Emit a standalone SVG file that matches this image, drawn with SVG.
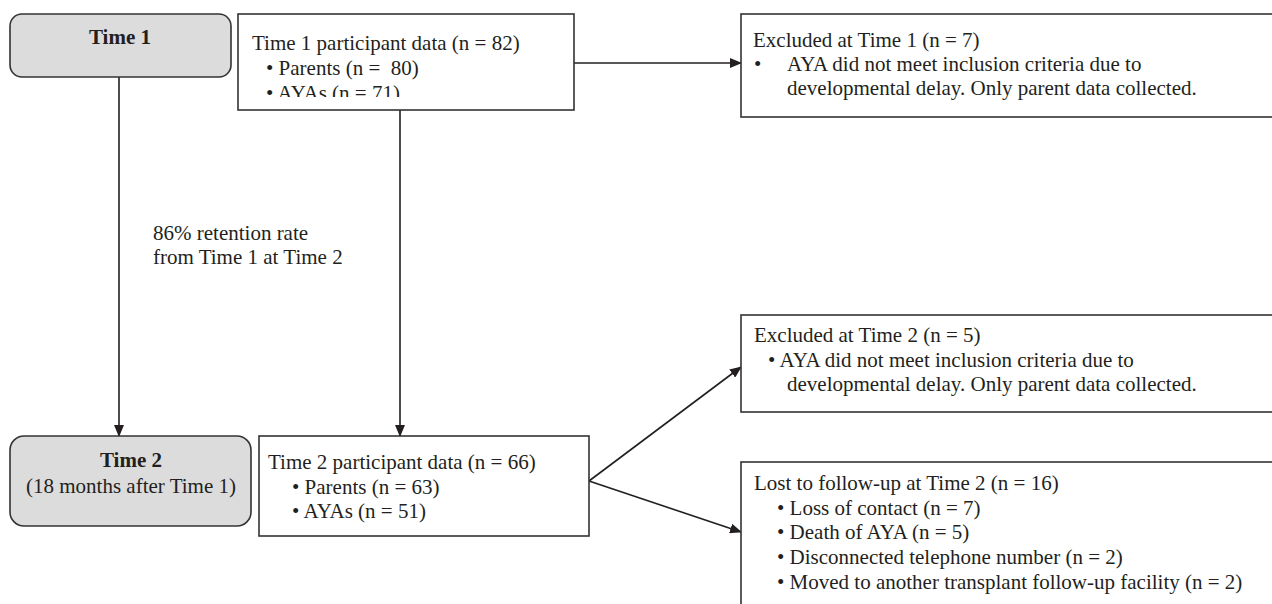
<svg xmlns="http://www.w3.org/2000/svg" width="1272" height="604" viewBox="0 0 1272 604">
<style>
.box{fill:#fff;stroke:#333;stroke-width:1.6}
.tbox{fill:#dcdcdc;stroke:#333;stroke-width:1.6}
text{font-family:"Liberation Serif","Times New Roman",serif;font-size:21px;fill:#231f20}
.b{font-weight:bold}
.c{text-anchor:middle}
.pre{white-space:pre}
.ln{stroke:#231f20;stroke-width:1.6;fill:none}
</style>
<defs>
<marker id="ah" markerWidth="12" markerHeight="10" refX="11" refY="5" orient="auto" markerUnits="userSpaceOnUse">
<path d="M0,0 L12,5 L0,10 Z" fill="#231f20"/>
</marker>
<clipPath id="clip1"><rect x="238" y="14" width="336" height="83"/></clipPath>
</defs>
<rect width="1272" height="604" fill="#fff"/>

<g id="connectors">
<line class="ln" x1="119" y1="77" x2="119" y2="436" marker-end="url(#ah)"/>
<line class="ln" x1="400" y1="110" x2="400" y2="436" marker-end="url(#ah)"/>
<line class="ln" x1="574" y1="63" x2="741" y2="63" marker-end="url(#ah)"/>
<line class="ln" x1="589" y1="481" x2="741" y2="367" marker-end="url(#ah)"/>
<line class="ln" x1="589" y1="481" x2="741" y2="532" marker-end="url(#ah)"/>
<text x="153" y="240">86% retention rate</text>
<text x="153" y="264">from Time 1 at Time 2</text>
</g>

<g id="time1">
<rect class="tbox" x="10" y="14" width="221" height="63" rx="12"/>
<text class="b c" x="120" y="44">Time 1</text>
</g>

<g id="t1data">
<rect class="box" x="238" y="14" width="336" height="96"/>
<g clip-path="url(#clip1)">
<text x="252" y="50">Time 1 participant data (n = 82)</text>
<text class="pre" x="266" y="75">• Parents (n =  80)</text>
<text x="266" y="100">• AYAs (n = 71)</text>
</g>
</g>

<g id="excluded1">
<rect class="box" x="741" y="14" width="540" height="103"/>
<text x="753" y="47">Excluded at Time 1 (n = 7)</text>
<text x="754" y="71">•</text>
<text x="787" y="71">AYA did not meet inclusion criteria due to</text>
<text x="787" y="95">developmental delay. Only parent data collected.</text>
</g>

<g id="time2">
<rect class="tbox" x="10" y="436" width="241" height="90" rx="14"/>
<text class="b c" x="131" y="467">Time 2</text>
<text class="c" x="131" y="493">(18 months after Time 1)</text>
</g>

<g id="t2data">
<rect class="box" x="259" y="436" width="330" height="100"/>
<text x="268" y="469">Time 2 participant data (n = 66)</text>
<text x="292" y="494">• Parents (n = 63)</text>
<text x="292" y="518">• AYAs (n = 51)</text>
</g>

<g id="excluded2">
<rect class="box" x="741" y="315" width="540" height="97"/>
<text x="754" y="342">Excluded at Time 2 (n = 5)</text>
<text x="768" y="367">• AYA did not meet inclusion criteria due to</text>
<text x="787" y="391">developmental delay. Only parent data collected.</text>
</g>

<g id="lost">
<rect class="box" x="741" y="462" width="540" height="160"/>
<text x="754" y="490">Lost to follow-up at Time 2 (n = 16)</text>
<text x="777" y="515">• Loss of contact (n = 7)</text>
<text x="777" y="539">• Death of AYA (n = 5)</text>
<text x="777" y="564">• Disconnected telephone number (n = 2)</text>
<text x="777" y="589">• Moved to another transplant follow-up facility (n = 2)</text>
</g>
</svg>
